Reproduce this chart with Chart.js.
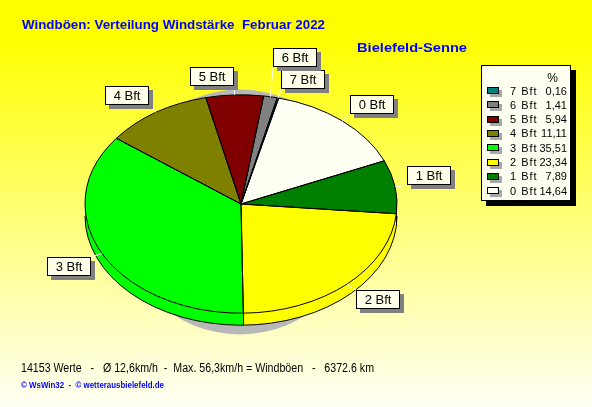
<!DOCTYPE html>
<html>
<head>
<meta charset="utf-8">
<script src="https://cdn.jsdelivr.net/npm/chart.js@4.4.0/dist/chart.umd.min.js"></script>
<style>
    body { margin: 0; }
    #rahmen {
        position: relative; width: 592px; height: 407px; overflow: hidden;
        background: linear-gradient(to bottom, #ffff00 0%, #ffff00 9%, #fffff6 100%);
        font-family: "Liberation Sans", Arial, sans-serif;
    }
    #torte { position: absolute; left: 0; top: 0; }
    .txt { position: absolute; white-space: pre; line-height: 1; transform-origin: 0 0; }
    #titel { left: 22px; top: 18px; font-size: 13px; font-weight: bold; color: #0000ff; }
    #station { left: 357px; top: 41px; font-size: 13px; font-weight: bold; color: #0000ff; }
    #fuss { left: 21px; top: 362px; font-size: 12px; color: #000; }
    #copy { left: 21px; top: 381px; font-size: 9px; font-weight: bold; color: #0000ff; }
    #legende {
        position: absolute; left: 481px; top: 65px; width: 88px; height: 134px;
        border: 1px solid #000; background: #fffff2; box-shadow: 5px 5px 0 #000;
        font-size: 11px;
    }
    .kasten {
        position: absolute; left: 5px; width: 10px; height: 5px;
        border: 1px solid #000; box-shadow: 3px 3px 0 #a8a8a8;
    }
    .name { position: absolute; left: 28px; line-height: 1; letter-spacing: 1px; }
    .wert { position: absolute; right: 3px; line-height: 1; text-align: right; }
</style>
</head>
<body>
<div id="rahmen">
    <canvas id="torte" width="592" height="407"></canvas>
    <div class="txt" id="titel"></div>
    <div class="txt" id="station"></div>
    <div class="txt" id="fuss"></div>
    <div class="txt" id="copy"></div>
    <div id="legende"></div>
</div>
<script>
// Daten
const kategorien = ['0 Bft', '1 Bft', '2 Bft', '3 Bft', '4 Bft', '5 Bft', '6 Bft', '7 Bft'];
const anteile = [14.64, 7.89, 23.34, 35.51, 11.11, 5.94, 1.41, 0.16];
const farben = ['#fffff4', '#008000', '#ffff00', '#00ff00', '#808000', '#800000', '#808080', '#008080'];
const titel = 'Windböen: Verteilung Windstärke  Februar 2022';
const station = 'Bielefeld-Senne';
const fusszeile = '14153 Werte   -   Ø 12,6km/h  -  Max. 56,3km/h = Windböen   -   6372.6 km';
const copyright = '© WsWin32  -  © wetterausbielefeld.de';

// 3D-Darstellung
const K = 0.7;      // Höhe / Breite der Ellipse
const TIEFE = 12;   // Dicke der Torte

function sektor(ctx, cx, cy, r, a0, a1) {
    ctx.save();
    ctx.translate(cx, cy);
    ctx.scale(1, K);
    ctx.moveTo(0, 0);
    ctx.arc(0, 0, r, a0, a1);
    ctx.closePath();
    ctx.restore();
}

const torte3d = {
    id: 'torte3d',
    beforeDatasetsDraw(chart) {
        const ctx = chart.ctx;
        const arcs = chart.getDatasetMeta(0).data;
        const { x: cx, y: cy, outerRadius: r } = arcs[0];

        ctx.save();
        // Schatten
        ctx.fillStyle = '#b8b8b8';
        ctx.beginPath();
        ctx.ellipse(cx - 1, cy + 8, r * 0.785, r * 0.785, 0, 0, 2 * Math.PI);
        ctx.fill();

        // Seitenwand
        for (let d = TIEFE; d >= 1; d--) {
            arcs.forEach((arc, i) => {
                ctx.beginPath();
                sektor(ctx, cx, cy + d, r, arc.startAngle, arc.endAngle);
                ctx.fillStyle = farben[i];
                ctx.fill();
            });
        }
        ctx.strokeStyle = '#000';
        ctx.lineWidth = 1;
        ctx.beginPath();
        ctx.save();
        ctx.translate(cx, cy + TIEFE);
        ctx.scale(1, K);
        ctx.arc(0, 0, r, 0, Math.PI);
        ctx.restore();
        ctx.stroke();
        arcs.forEach(arc => {
            const a = arc.startAngle;
            const s = Math.sin(a);
            if (s > 0) {
                const x = Math.round(cx + r * Math.cos(a)) + 0.5;
                ctx.beginPath();
                ctx.moveTo(x, cy + r * K * s);
                ctx.lineTo(x, cy + r * K * s + TIEFE);
                ctx.stroke();
            }
        });

        // Oberseite gestaucht zeichnen
        ctx.translate(cx, cy);
        ctx.scale(1, K);
        ctx.translate(-cx, -cy);
    },
    afterDatasetsDraw(chart) {
        const ctx = chart.ctx;
        ctx.restore();
        const arcs = chart.getDatasetMeta(0).data;
        const { x: cx, y: cy, outerRadius: r } = arcs[0];

        ctx.save();
        ctx.strokeStyle = '#000';
        ctx.lineWidth = 1;
        arcs.forEach(arc => {
            ctx.beginPath();
            sektor(ctx, cx, cy, r, arc.startAngle, arc.endAngle);
            ctx.stroke();
        });

        // Beschriftungen mit Hinweislinien
        ctx.font = '13px "Liberation Sans", Arial, sans-serif';
        ctx.textAlign = 'center';
        ctx.textBaseline = 'middle';
        const belegt = [];
        for (let i = arcs.length - 1; i >= 0; i--) {
            const arc = arcs[i];
            const mitte = (arc.startAngle + arc.endAngle) / 2;
            const cos = Math.cos(mitte), sin = Math.sin(mitte);
            const ex = cx + r * cos, ey = cy + r * K * sin;
            const ax = cx + r * 1.08 * cos, ay = cy + r * K * 1.08 * sin;
            const w = Math.round(ctx.measureText(kategorien[i]).width) + 17;
            const h = 19;
            const rechts = cos >= 0, unten = sin > 0;
            const bx = Math.round(rechts ? ax : ax - w);
            let by = Math.round(unten ? ay : ay - h);
            while (belegt.some(b => bx < b.x + b.w + 3 && bx + w + 3 > b.x && by < b.y + b.h + 3 && by + h + 3 > b.y)) {
                by += unten ? 1 : -1;
            }
            belegt.push({ x: bx, y: by, w: w, h: h });

            const kx = rechts ? bx : bx + w;
            const ky = unten ? by : by + h;
            ctx.strokeStyle = '#ffffff';
            ctx.beginPath();
            ctx.moveTo(ex, ey);
            ctx.lineTo(kx, ky);
            ctx.stroke();

            ctx.fillStyle = '#808080';
            ctx.fillRect(bx + 4, by + 4, w, h);
            ctx.fillStyle = '#ffffea';
            ctx.fillRect(bx, by, w, h);
            ctx.strokeStyle = '#000';
            ctx.strokeRect(bx + 0.5, by + 0.5, w - 1, h - 1);
            ctx.fillStyle = '#000';
            ctx.fillText(kategorien[i], bx + w / 2, by + h / 2 + 1);
        }
        ctx.restore();
    }
};

new Chart(document.getElementById('torte'), {
    type: 'pie',
    data: {
        labels: kategorien,
        datasets: [{
            data: anteile,
            backgroundColor: farben,
            borderWidth: 0,
            clip: false
        }]
    },
    options: {
        responsive: false,
        animation: false,
        devicePixelRatio: 1,
        rotation: 14,
        events: [],
        layout: { padding: { left: 85, right: 195, top: 48, bottom: 47 } },
        plugins: {
            legend: { display: false },
            tooltip: { enabled: false }
        }
    },
    plugins: [torte3d]
});

// Texte
function setzeText(id, text, breite) {
    const el = document.getElementById(id);
    el.textContent = text;
    const ist = el.getBoundingClientRect().width;
    if (ist > 0) el.style.transform = 'scaleX(' + (breite / ist) + ')';
}
setzeText('titel', titel, 303);
setzeText('station', station, 110);
setzeText('fuss', fusszeile, 353);
setzeText('copy', copyright, 143);

// Legende
const legende = document.getElementById('legende');
legende.innerHTML = '<div class="wert" style="top:6px;right:12px;font-size:12px">%</div>';
for (let n = 0; n < kategorien.length; n++) {
    const i = kategorien.length - 1 - n;
    const top = 19.5 + n * 14.3;
    legende.innerHTML +=
        '<div class="kasten" style="top:' + (top + 1.5) + 'px;background:' + farben[i] + '"></div>' +
        '<div class="name" style="top:' + top + 'px">' + kategorien[i] + '</div>' +
        '<div class="wert" style="top:' + top + 'px">' + anteile[i].toFixed(2).replace('.', ',') + '</div>';
}
</script>
</body>
</html>
